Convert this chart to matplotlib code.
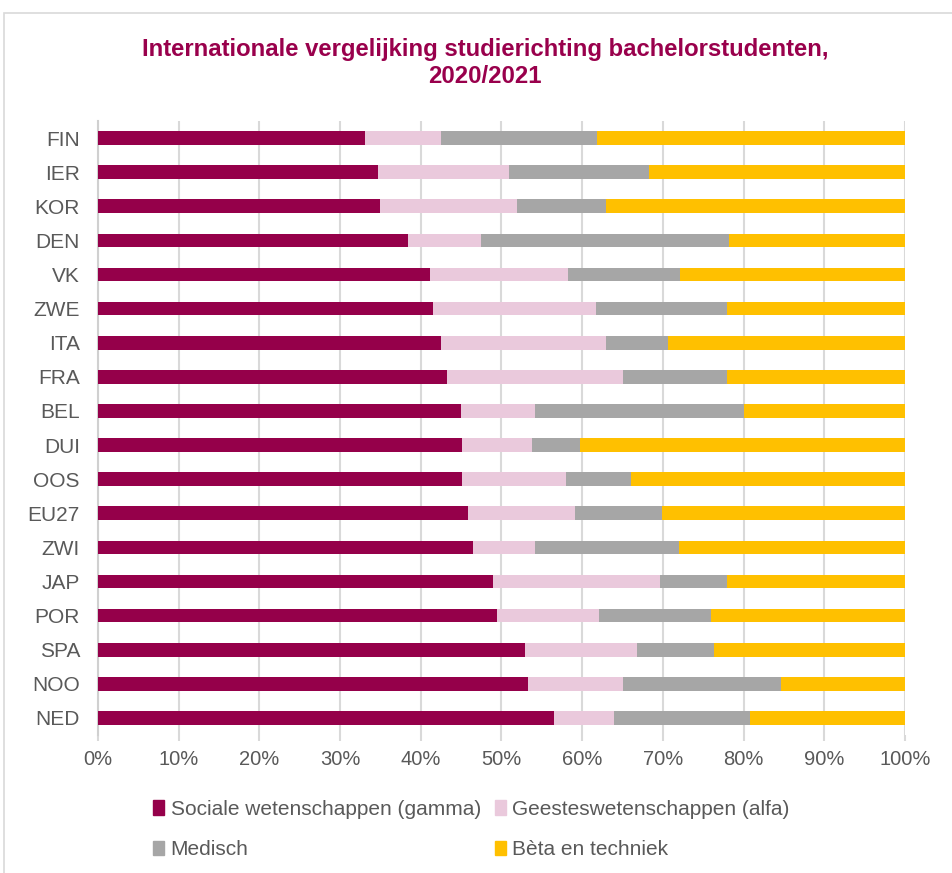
import matplotlib.pyplot as plt
import matplotlib.patches as mpatches
from matplotlib.ticker import PercentFormatter

plt.rcParams['font.family'] = ['Liberation Sans', 'DejaVu Sans']

landen = ['FIN', 'IER', 'KOR', 'DEN', 'VK', 'ZWE', 'ITA', 'FRA', 'BEL',
          'DUI', 'OOS', 'EU27', 'ZWI', 'JAP', 'POR', 'SPA', 'NOO', 'NED']

gamma = [33.1, 34.7, 35.0, 38.4, 41.1, 41.5, 42.5, 43.2, 45.0,
         45.1, 45.1, 45.9, 46.5, 49.0, 49.4, 52.9, 53.3, 56.5]
alfa = [9.4, 16.2, 16.9, 9.0, 17.2, 20.2, 20.4, 21.8, 9.1,
        8.7, 12.9, 13.2, 7.6, 20.7, 12.7, 13.9, 11.8, 7.5]
medisch = [19.3, 17.4, 11.1, 30.8, 13.8, 16.2, 7.7, 13.0, 25.9,
           5.9, 8.1, 10.8, 17.9, 8.3, 13.9, 9.5, 19.5, 16.8]
beta = [38.2, 31.7, 37.0, 21.8, 27.9, 22.1, 29.4, 22.0, 20.0,
        40.3, 33.9, 30.1, 28.0, 22.0, 24.0, 23.7, 15.4, 19.2]

reeksen = ['Sociale wetenschappen (gamma)', 'Geesteswetenschappen (alfa)',
           'Medisch', 'Bèta en techniek']
kleuren = ['#95004A', '#EAC9DC', '#A6A6A6', '#FFC000']
titel = 'Internationale vergelijking studierichting bachelorstudenten,\n2020/2021'

W, H = 953, 873
fig = plt.figure(figsize=(W / 100, H / 100), dpi=100)
ax = fig.add_axes([98 / W, 1 - 735 / H, 807 / W, 614 / H])

# frame around the chart
fig.patches.append(mpatches.Rectangle((4 / W, -0.1), 1.2, 1 - 13 / H + 0.1,
                                      transform=fig.transFigure, fill=False,
                                      edgecolor='#d9d9d9', lw=1.2))

y = list(range(len(landen)))
left = [0] * len(landen)
handles = []
for waarden, naam, kleur in zip([gamma, alfa, medisch, beta], reeksen, kleuren):
    ax.barh(y, waarden, left=left, height=0.4, color=kleur, zorder=3)
    left = [a + b for a, b in zip(left, waarden)]
    handles.append(mpatches.Patch(color=kleur, label=naam))

ax.set_xlim(0, 100)
ax.set_ylim(len(landen) - 0.5, -0.5)
ax.set_yticks(y)
ax.set_yticklabels(landen)
ax.set_xticks(range(0, 101, 10))
ax.xaxis.set_major_formatter(PercentFormatter(decimals=0))

ax.grid(axis='x', color='#d9d9d9', lw=1.5, zorder=0)
for s in ['top', 'right', 'bottom']:
    ax.spines[s].set_visible(False)
ax.spines['left'].set_color('#d0d0d0')
ax.spines['left'].set_linewidth(1.5)
ax.tick_params(axis='x', colors='#d9d9d9', labelcolor='#595959', labelsize=14.5,
               length=4, width=1.5, pad=7)
ax.tick_params(axis='y', length=0, labelcolor='#595959', labelsize=15, pad=13)

fig.text(485 / W, 1 - 63 / H, titel, ha='center', va='center', fontsize=17.2,
         fontweight='bold', color='#99004C', linespacing=1.2)

order = [handles[0], handles[2], handles[1], handles[3]]
fig.legend(handles=order, loc='center left', ncol=2,
           bbox_to_anchor=(153 / W, 1 - 829.5 / H), frameon=False,
           fontsize=15, labelcolor='#595959', handlelength=0.55,
           handleheight=0.7, handletextpad=0.3, columnspacing=0.65,
           labelspacing=1.05, borderpad=0, borderaxespad=0)

fig.savefig('out.png', dpi=100)
